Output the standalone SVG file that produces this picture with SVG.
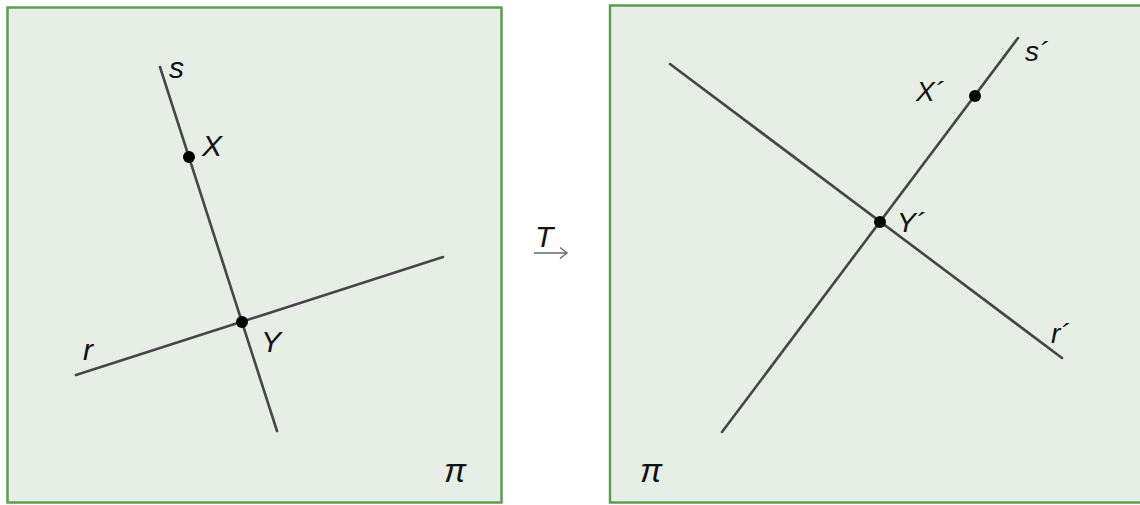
<svg xmlns="http://www.w3.org/2000/svg" width="1140" height="505" viewBox="0 0 1140 505">
<defs>
<style>
.panel{fill:#e6eee5;stroke:#5c9e50;stroke-width:2.5}
.ln{stroke:#474747;stroke-width:2.6;stroke-linecap:round;fill:none}
.pt{fill:#000}
.lbl{font-family:"Liberation Sans",Arial,sans-serif;font-style:italic;fill:#111;font-size:30px}
.lbl2{font-family:"Liberation Sans",Arial,sans-serif;font-style:italic;fill:#111;font-size:28px}
.pi{font-family:"Liberation Sans",Arial,sans-serif;font-style:italic;fill:#111;font-size:33px}
</style>
</defs>
<rect width="1140" height="505" fill="#ffffff"/>
<g id="panel-left">
<rect class="panel" x="7.5" y="7.5" width="494" height="495"/>
</g>
<g id="panel-right">
<rect class="panel" x="610" y="5.5" width="540" height="497"/>
</g>
<g id="connectors">
<line class="ln" x1="160" y1="67" x2="277" y2="431"/>
<line class="ln" x1="76" y1="375" x2="443" y2="257"/>
<line class="ln" x1="670" y1="64" x2="1062" y2="358"/>
<line class="ln" x1="1018" y1="38" x2="722" y2="432"/>
<g id="arrow-T">
<line x1="534" y1="253" x2="567" y2="253" stroke="#666" stroke-width="1.3"/>
<polyline points="560,247.5 567,253 560,258.5" fill="none" stroke="#666" stroke-width="1.3"/>
</g>
</g>
<g id="point-X"><circle class="pt" cx="189" cy="157" r="6"/><text class="lbl" x="202" y="156">X</text></g>
<g id="point-Y"><circle class="pt" cx="242" cy="322" r="6"/><text class="lbl" x="261" y="352">Y</text></g>
<g id="label-s"><text class="lbl" x="169" y="78">s</text></g>
<g id="label-r"><text class="lbl" x="83" y="360">r</text></g>
<g id="label-pi-left"><text class="pi" x="444" y="482">π</text></g>
<g id="label-T"><text class="lbl" x="535" y="247">T</text></g>
<g id="point-X2"><circle class="pt" cx="975" cy="96" r="6"/><text class="lbl2" x="916" y="101">X´</text></g>
<g id="point-Y2"><circle class="pt" cx="880" cy="222" r="6"/><text class="lbl2" x="897" y="232">Y´</text></g>
<g id="label-s2"><text class="lbl2" x="1025" y="61">s´</text></g>
<g id="label-r2"><text class="lbl2" x="1051" y="343">r´</text></g>
<g id="label-pi-right"><text class="pi" x="640" y="482">π</text></g>
</svg>
